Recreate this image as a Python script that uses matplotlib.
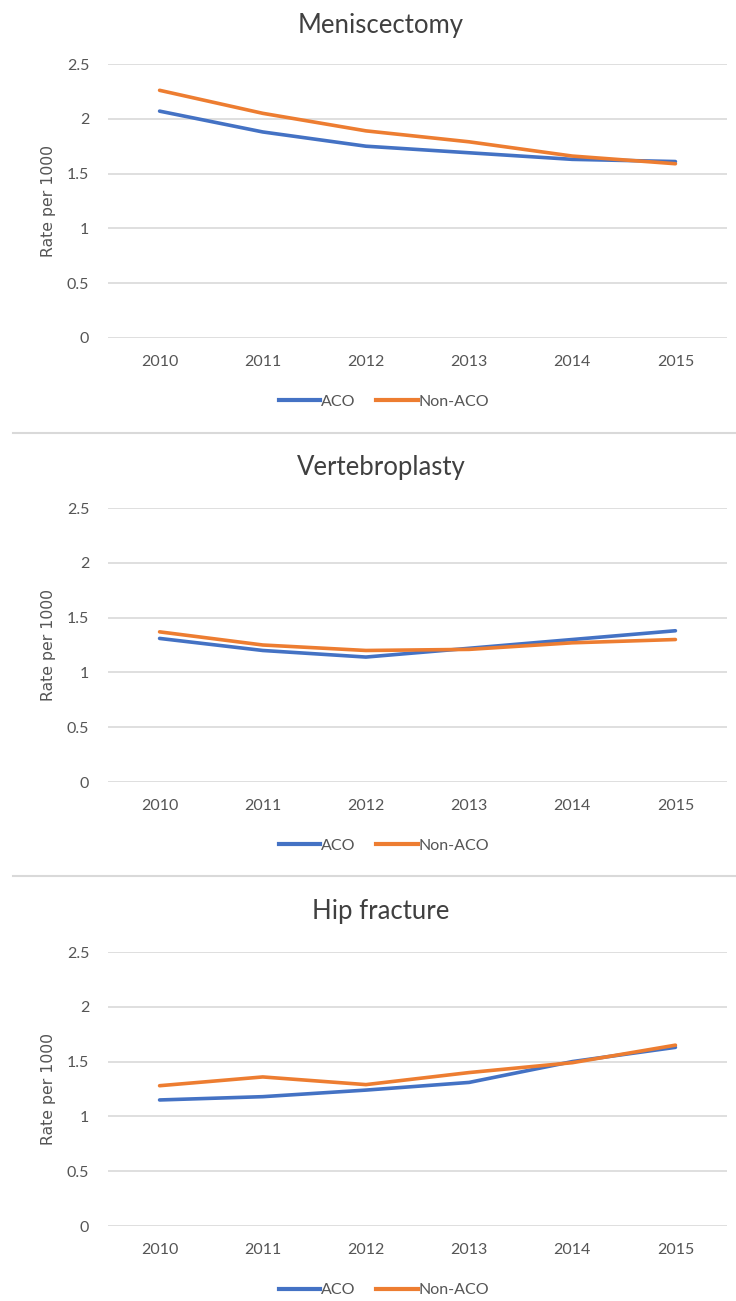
import matplotlib
matplotlib.use("Agg")
import matplotlib.pyplot as plt
from matplotlib.lines import Line2D

years = ["2010", "2011", "2012", "2013", "2014", "2015"]
titles = ["Meniscectomy", "Vertebroplasty", "Hip fracture"]
aco_menisc = [2.07, 1.88, 1.75, 1.69, 1.63, 1.61]
non_menisc = [2.26, 2.05, 1.89, 1.79, 1.66, 1.59]
aco_vert = [1.31, 1.20, 1.14, 1.22, 1.30, 1.38]
non_vert = [1.37, 1.25, 1.20, 1.21, 1.27, 1.30]
aco_hip = [1.15, 1.18, 1.24, 1.31, 1.50, 1.63]
non_hip = [1.28, 1.36, 1.29, 1.40, 1.49, 1.65]
yticks = [0, 0.5, 1, 1.5, 2, 2.5]
ytick_labels = ["0", "0.5", "1", "1.5", "2", "2.5"]
series_names = ["ACO", "Non-ACO"]

aco_all = [aco_menisc, aco_vert, aco_hip]
non_all = [non_menisc, non_vert, non_hip]

FONT = ["Lato", "DejaVu Sans"]
BLUE = "#4472C4"
ORANGE = "#ED7D31"
GRID = "#D9D9D9"
TXT = "#555555"

W, H = 736, 1301
fig = plt.figure(figsize=(W / 100, H / 100), dpi=100)

# (top, bottom) in pixel of axis area, title y
panels = [(64, 338, 25), (508, 782, 468), (952, 1226, 912)]
left_px, right_px = 108, 727

for i, (top, bot, ty) in enumerate(panels):
    ax = fig.add_axes([left_px / W, 1 - bot / H, (right_px - left_px) / W, (bot - top) / H])
    x = list(range(len(years)))
    ax.plot(x, aco_all[i], color=BLUE, lw=2.6, solid_capstyle="round", zorder=3)
    ax.plot(x, non_all[i], color=ORANGE, lw=2.6, solid_capstyle="round", zorder=3)
    ax.set_xlim(-0.5, len(years) - 0.5)
    ax.set_ylim(0, 2.5)
    ax.set_yticks(yticks)
    ax.set_yticklabels(ytick_labels, family=FONT, fontsize=11.5, color=TXT)
    ax.set_xticks(x)
    ax.set_xticklabels(years, family=FONT, fontsize=11.5, color=TXT)
    ax.tick_params(axis="x", length=0, pad=12.5)
    ax.tick_params(axis="y", length=0, pad=13.5)
    ax.grid(axis="y", color=GRID, lw=1.2)
    ax.set_axisbelow(True)
    for s in ax.spines.values():
        s.set_visible(False)
    fig.text(381 / W, 1 - ty / H, titles[i], ha="center", va="center",
             family=FONT, fontsize=18.5, color="#404040")
    fig.text(49 / W, 1 - (top + bot) / 2 / H, "Rate per 1000", rotation=90,
             ha="center", va="center", family=["DejaVu Sans"], fontsize=11.3, color=TXT)
    handles = [Line2D([], [], color=BLUE, lw=3), Line2D([], [], color=ORANGE, lw=3)]
    fig.legend(handles, series_names, loc="center", bbox_to_anchor=(384 / W, 1 - (bot + 64) / H),
               ncol=2, frameon=False, prop={"family": FONT, "size": 11.5},
               handlelength=2.6, handletextpad=0.05, columnspacing=1.3, labelcolor=TXT)

for sy in [433, 876]:
    fig.add_artist(Line2D([13 / W, 1], [1 - sy / H, 1 - sy / H], color=GRID, lw=1.5))

fig.savefig("out.png", dpi=100, facecolor="white")
